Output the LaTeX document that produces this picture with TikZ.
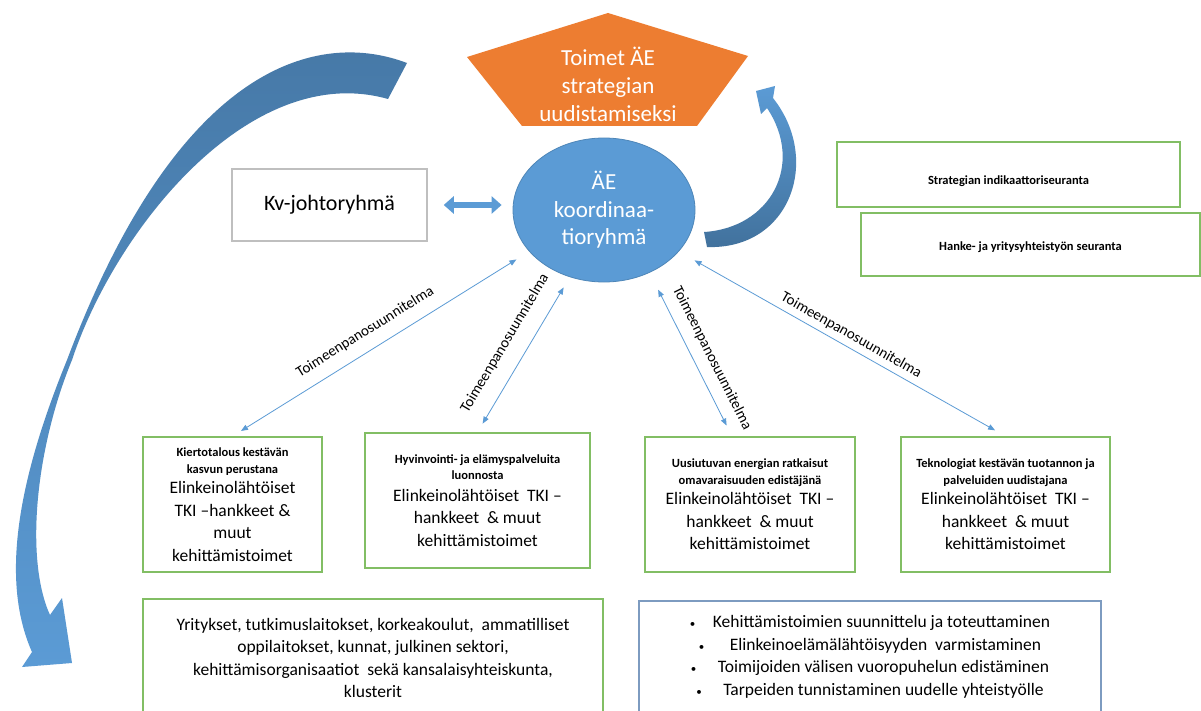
\documentclass[tikz,border=0pt]{standalone}
\usepackage{fontspec}
\setmainfont{Carlito}
\usetikzlibrary{arrows.meta,shapes.geometric}
\definecolor{aeblue}{HTML}{5B9BD5}
\definecolor{aedark}{HTML}{41719C}
\definecolor{aetop}{RGB}{70,120,166}
\definecolor{aeorange}{HTML}{ED7D31}
\definecolor{themegreen}{RGB}{130,190,100}
\definecolor{kvgray}{HTML}{BFBFBF}
\definecolor{tasksteel}{RGB}{125,155,192}
\newcommand{\ttlfont}{\bfseries\fontsize{12.5}{15}\selectfont}
\newcommand{\txtfont}{\fontsize{17.5}{22.5}\selectfont}
\newcommand{\dotmark}{{\fontsize{11}{11}\selectfont\textbullet}\quad}

\begin{document}
\begin{tikzpicture}[x=1pt, y=-1pt,
    theme/.style ={rectangle, draw=themegreen, line width=1.5pt, fill=white, align=center, inner sep=0pt, font=\txtfont, minimum height=135pt},
    monitor/.style ={rectangle, draw=themegreen, line width=1.5pt, font=\ttlfont, inner sep=0pt},
    link/.style ={draw=aeblue, line width=0.8pt, {Triangle[length=7pt,width=5.5pt]}-{Triangle[length=7pt,width=5.5pt]}},
    plan/.style ={font=\fontsize{15}{18}\selectfont, inner sep=1pt, sloped},
    blockarrow/.style ={draw=aeblue, line width=6pt, {Triangle[length=10pt,width=17pt]}-{Triangle[length=10pt,width=17pt]}}]
   \useasboundingbox (0,0) rectangle (1201,711);
   \fill[white] (0,0) rectangle (1201,711);
   \shade[top color=aetop, bottom color=aeblue] (407,63) .. controls (320,30) and (180,60) .. (67,360)
      .. controls (18,480) and (0,580) .. (32,652) -- (22,667) -- (72,663) -- (62,598) -- (50,615)
      .. controls (25,560) and (35,450) .. (72,360) .. controls (115,230) and (250,60) .. (388,99) -- cycle;
   \fill[aeorange] (608,13) -- (748,56) -- (697,126) -- (522,126) -- (467,57) -- cycle;
   \node[text=white, align=center, font=\fontsize{23}{28}\selectfont] (goal) at (608,84) {Toimet ÄE\\strategian\\uudistamiseksi};
   \node[ellipse, fill=aeblue, draw=aedark!50!aeblue, line width=0.8pt, minimum width=182pt, minimum height=144pt, inner sep=0pt, text=white, align=center, font=\fontsize{23}{27.5}\selectfont] (ae) at (604,210) {ÄE\\koordinaa-\\tioryhmä};
   \shade[top color=aeblue, bottom color=aedark] (704,232) .. controls (770,228) and (805,165) .. (767,108)
      -- (761,114) -- (756,91) -- (775,86) -- (773,98) .. controls (822,160) and (790,250) .. (707,247) -- cycle;
   \node[rectangle, draw=kvgray, line width=1.5pt, minimum width=195pt, minimum height=72pt, font=\fontsize{22}{26}\selectfont] (kv) at (329.5,205) {Kv-johtoryhmä};
   \node[monitor, minimum width=343pt, minimum height=65pt] (indic) at (1008.5,174.5) {\raisebox{-7pt}[9pt][3pt]{Strategian indikaattoriseuranta}};
   \node[monitor, minimum width=339pt, minimum height=63pt] (coop) at (1030.5,244.5) {\raisebox{-3pt}[9pt][3pt]{Hanke- ja yritysyhteistyön seuranta}};
   \node[theme, minimum width=179pt] (circ) at (232.5,504.5) {{\ttlfont Kiertotalous kestävän}\\[-6pt]{\ttlfont kasvun perustana}\\[-2pt]Elinkeinolähtöiset\\TKI –hankkeet \&\\muut\\kehittämistoimet};
   \node[theme, minimum width=225pt] (wellb) at (477.5,500.5) {{\ttlfont Hyvinvointi- ja elämyspalveluita}\\[-6pt]{\ttlfont luonnosta}\\[-1pt]Elinkeinolähtöiset\ \ TKI –\\hankkeet\ \ \& muut\\kehittämistoimet};
   \node[theme, minimum width=210pt] (energy) at (750,504.5) {{\ttlfont Uusiutuvan energian ratkaisut}\\[-6pt]{\ttlfont omavaraisuuden edistäjänä}\\[-2pt]Elinkeinolähtöiset\ \ TKI –\\hankkeet\ \ \& muut\\kehittämistoimet};
   \node[theme, minimum width=209pt] (tech) at (1005.5,504.5) {{\ttlfont Teknologiat kestävän tuotannon ja}\\[-6pt]{\ttlfont palveluiden uudistajana}\\[-2pt]Elinkeinolähtöiset\ \ TKI –\\hankkeet\ \ \& muut\\kehittämistoimet};
   \node[theme, minimum width=460pt, minimum height=140pt, anchor=north] (actors) at (373,598) {};
   \node[align=center, font=\txtfont] (actorlist) at (373,658) {Yritykset, tutkimuslaitokset, korkeakoulut,\ \ ammatilliset\\oppilaitokset, kunnat, julkinen sektori,\\kehittämisorganisaatiot\ \ sekä kansalaisyhteiskunta,\\klusterit};
   \node[rectangle, draw=tasksteel, line width=1.5pt, minimum width=462pt, minimum height=140pt, anchor=north] (tasks) at (870,600) {};
   \node[align=center, font=\txtfont] (tasklist) at (870,657) {\dotmark Kehittämistoimien suunnittelu ja toteuttaminen\\\dotmark\ \ Elinkeinoelämälähtöisyyden\ \ varmistaminen\\\dotmark\ Toimijoiden välisen vuoropuhelun edistäminen\\\dotmark\ Tarpeiden tunnistaminen uudelle yhteistyölle};
   \draw[blockarrow, shorten <=16pt, shorten >=11pt] (kv.east) to (kv.east -| ae.west);
   \draw[link, shorten <=10pt, shorten >=15pt] (circ.north) to node[plan, above=10.5pt, pos=0.48] (plan1) {Toimeenpanosuunnitelma} (ae.-151);
   \draw[link, shorten <=10pt, shorten >=12pt] (wellb.north) to node[plan, above=14pt, pos=0.5] (plan2) {Toimeenpanosuunnitelma} (ae.-117);
   \draw[link, shorten <=12pt, shorten >=19pt] ([xshift=-18pt]energy.north) to node[plan, above=9.5pt, pos=0.43] (plan3) {Toimeenpanosuunnitelma} (ae.-54);
   \draw[link, shorten <=12pt, shorten >=18pt] (tech.north) to node[plan, above=4pt, pos=0.49] (plan4) {Toimeenpanosuunnitelma} (ae.-29);
\end{tikzpicture}
\end{document}
